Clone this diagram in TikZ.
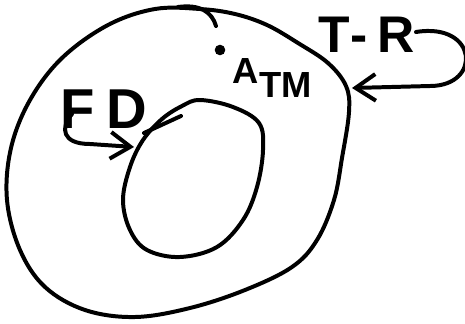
\documentclass[tikz,border=0pt]{standalone}
\usepackage{fontspec}
\setmainfont{Liberation Sans}
\usetikzlibrary{arrows.meta}
\begin{document}
\begin{tikzpicture}[
  x=0.03cm, y=-0.03cm,
  ink/.style={line width=3.4pt, line cap=round, line join=round},
  dot/.style={circle, fill, inner sep=3.2pt},
  hand/.style={inner sep=0pt, font=\bfseries\fontsize{44}{44}\selectfont},
  handarrow/.style={ink, -{Straight Barb[length=6mm, width=8mm]}},
]
  \useasboundingbox (0,0) rectangle (465,323);

  % Outer region
  \draw[ink] plot[smooth cycle, tension=0.6] coordinates {
    (200,9) (235,14) (267,25) (298,43) (328,63) (346,86) (349,112)
    (342,158) (334,200) (317,240) (292,267) (245,290) (190,308)
    (135,317) (85,310) (45,287) (20,250) (7,200) (11,148) (30,100)
    (62,58) (108,25) (155,9)};
  \draw[ink] (178,7) .. controls (200,4) and (212,12) .. (216,26);

  % Inner region
  \draw[ink] plot[smooth cycle, tension=0.6] coordinates {
    (200,100) (233,107) (259,123) (263,150) (257,187) (243,220)
    (217,247) (180,257) (147,250) (130,230) (123,200) (130,167)
    (143,140) (162,119) (182,106)};
  \draw[ink] (144,133) -- (181,116);

  % Point A
  \node[dot] (a) at (220,50) {};
  \node[hand, font=\bfseries\fontsize{31}{31}\selectfont, anchor=north west]
    (atm) at (232,58) {A\kern1pt\raisebox{-0.42cm}{TM}};

  % Boundary conditions
  \node[hand, anchor=north west] (tr) at (318,17) {T\kern1pt-\kern8pt R};
  \node[hand, font=\bfseries\fontsize{48}{48}\selectfont, anchor=north west]
    (fd) at (60,90) {F\kern10pt D};

  \coordinate (trtail) at (416,32);
  \coordinate (outerhit) at (352,88);
  \coordinate (fdtail) at (72,114);
  \coordinate (innerhit) at (134,147);

  \draw[handarrow] (trtail) .. controls (478,22) and (482,86) .. (430,86) -- (outerhit);
  \draw[handarrow] (fdtail) .. controls (60,128) and (62,144) .. (90,144) -- (innerhit);

\end{tikzpicture}
\end{document}
